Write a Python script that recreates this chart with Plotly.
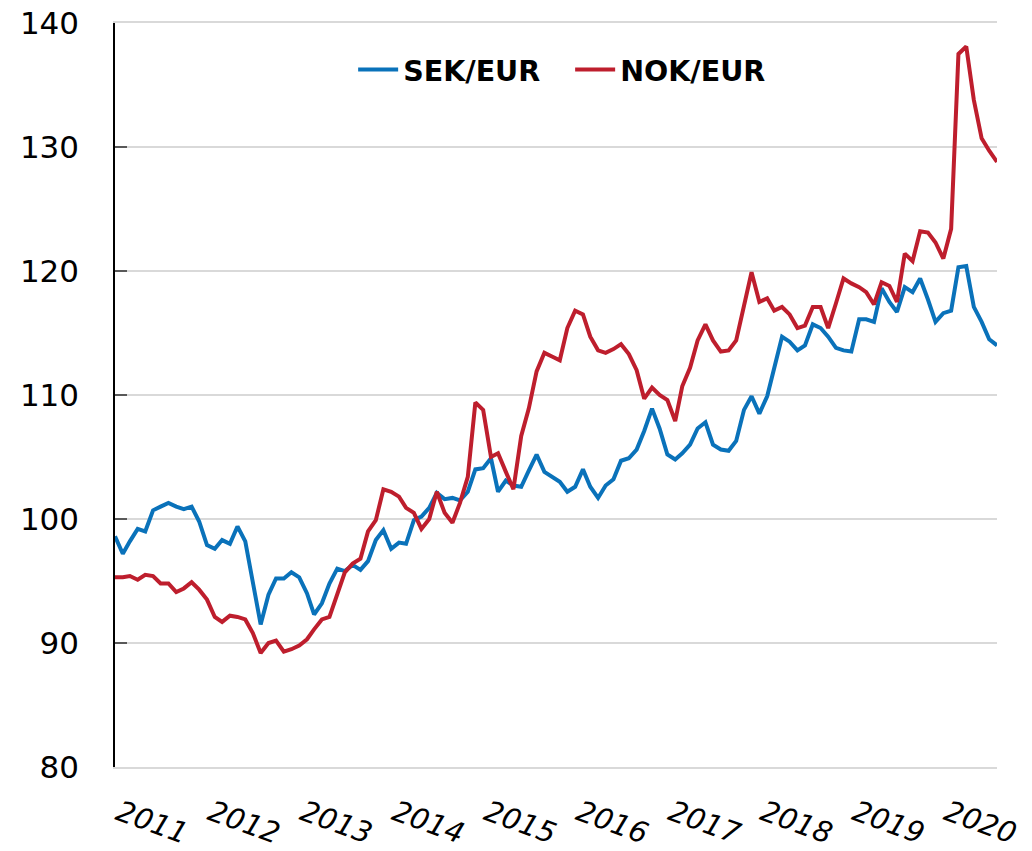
import pandas as pd
import plotly.graph_objects as go

# Monthly index values, Jan 2011 - Aug 2020
sek_eur = [
    98.6, 97.2, 98.2, 99.2, 99.0, 100.7, 101.0, 101.3, 101.0, 100.8, 101.0, 99.8,
    97.9, 97.6, 98.3, 98.0, 99.4, 98.2, 94.9, 91.5, 93.9, 95.2, 95.2, 95.7,
    95.3, 94.0, 92.3, 93.2, 94.8, 96.0, 95.8, 96.3, 95.9, 96.6, 98.3, 99.1,
    97.6, 98.1, 98.0, 99.9, 100.2, 100.9, 102.1, 101.6, 101.7, 101.5, 102.2, 104.0,
    104.1, 104.9, 102.2, 103.1, 102.7, 102.6, 103.9, 105.2, 103.8, 103.4, 103.0, 102.2,
    102.6, 104.0, 102.6, 101.7, 102.7, 103.2, 104.7, 104.9, 105.6, 107.1, 108.9, 107.3,
    105.2, 104.8, 105.3, 106.0, 107.3, 107.8, 106.0, 105.6, 105.5, 106.3, 108.8, 109.9,
    108.5, 109.9, 112.3, 114.7, 114.3, 113.6, 114.0, 115.7, 115.4, 114.7, 113.8, 113.6,
    113.5, 116.1, 116.1, 115.9, 118.6, 117.5, 116.7, 118.7, 118.3, 119.4, 117.7, 115.9,
    116.6, 116.8, 120.3, 120.4, 117.1, 115.9, 114.5, 114.0,
]
nok_eur = [
    95.3, 95.3, 95.4, 95.1, 95.5, 95.4, 94.8, 94.8, 94.1, 94.4, 94.9, 94.3,
    93.5, 92.1, 91.7, 92.2, 92.1, 91.9, 90.8, 89.2, 90.0, 90.2, 89.3, 89.5,
    89.8, 90.3, 91.1, 91.9, 92.1, 94.0, 95.7, 96.4, 96.8, 99.0, 99.9, 102.4,
    102.2, 101.8, 100.9, 100.5, 99.2, 100.0, 102.2, 100.5, 99.7, 101.3, 103.4, 109.4,
    108.8, 105.0, 105.3, 103.8, 102.4, 106.7, 108.9, 111.9, 113.4, 113.1, 112.8, 115.4,
    116.8, 116.5, 114.7, 113.6, 113.4, 113.7, 114.1, 113.3, 112.0, 109.7, 110.6, 110.0,
    109.6, 107.9, 110.7, 112.2, 114.4, 115.7, 114.4, 113.5, 113.6, 114.4, 117.3, 119.9,
    117.5, 117.8, 116.8, 117.1, 116.5, 115.4, 115.6, 117.1, 117.1, 115.4, 117.4, 119.4,
    119.0, 118.7, 118.3, 117.3, 119.1, 118.8, 117.5, 121.4, 120.8, 123.2, 123.1, 122.3,
    121.0, 123.4, 137.5, 138.1, 133.8, 130.7, 129.7, 128.8,
]
months = pd.date_range(start="2011-01-01", periods=len(sek_eur), freq="MS")
year_labels = ["2011", "2012", "2013", "2014", "2015", "2016", "2017", "2018", "2019", "2020"]
year_ticks = [f"{y}-01-01" for y in year_labels]
y_ticks = [80, 90, 100, 110, 120, 130, 140]

BLUE = "#0A72BA"
RED = "#BE1E2D"
FONT = "DejaVu Sans"

fig = go.Figure()
fig.add_trace(go.Scatter(x=months, y=sek_eur, mode="lines", name="SEK/EUR",
                         line=dict(color=BLUE, width=4)))
fig.add_trace(go.Scatter(x=months, y=nok_eur, mode="lines", name="NOK/EUR",
                         line=dict(color=RED, width=4)))

fig.update_layout(
    width=1032, height=851,
    margin=dict(l=107, r=43, t=15, b=92, autoexpand=False),
    paper_bgcolor="white", plot_bgcolor="white",
    font=dict(family=FONT, color="black"),
    showlegend=True,
    legend=dict(orientation="h", x=0.27, xanchor="left", y=0.937, yanchor="middle",
                font=dict(family=FONT, size=28.5, weight="bold", color="black"),
                bgcolor="rgba(0,0,0,0)", itemwidth=40, traceorder="normal",
                entrywidth=162),
)
fig.update_xaxes(
    range=[months[0], months[-1]],
    tickmode="array", tickvals=year_ticks, ticktext=year_labels,
    tickangle=20, tickfont=dict(family=FONT, size=29, style="italic", color="black"),
    showgrid=False, zeroline=False,
    showline=True, linecolor="#D9D9D9", linewidth=2, mirror=True, ticks="",
    ticklabelstandoff=16, ticklabelshift=4, automargin=False,
)
fig.update_yaxes(
    range=[80, 140], tickmode="array", tickvals=y_ticks,
    tickfont=dict(family=FONT, size=31, color="black"),
    showgrid=True, gridcolor="#D9D9D9", gridwidth=2,
    zeroline=False, showline=True, linecolor="black", linewidth=1.5,
    ticks="inside", ticklen=12, tickcolor="#595959", tickwidth=2,
    ticklabelstandoff=28, ticklabeloverflow="allow", automargin=False,
)

fig.write_html("out.html")
